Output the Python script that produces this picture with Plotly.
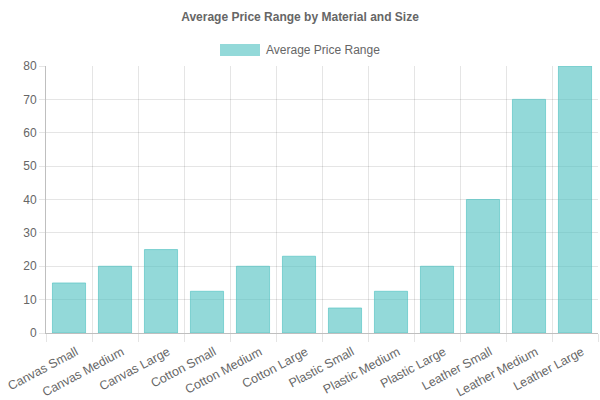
import plotly.graph_objects as go

categories = ["Canvas Small", "Canvas Medium", "Canvas Large", "Cotton Small", "Cotton Medium",
              "Cotton Large", "Plastic Small", "Plastic Medium", "Plastic Large", "Leather Small",
              "Leather Medium", "Leather Large"]
values = [15, 20, 25, 12.5, 20, 23, 7.5, 12.5, 20, 40, 70, 80]
series_name = "Average Price Range"
title_text = "Average Price Range by Material and Size"
y_ticks = [0, 10, 20, 30, 40, 50, 60, 70, 80]

FONT = "Liberation Sans, Arial, Helvetica, sans-serif"
GRID = "rgba(0,0,0,0.1)"
BAR = "rgba(75,192,192,0.6)"

# plot area in pixels (for legend decoration placement)
L, R, T, B = 46, 598, 66, 333
W, H = R - L, B - T

fig = go.Figure()
fig.add_trace(go.Bar(
    x=categories, y=values, name=series_name,
    marker=dict(color=BAR, line=dict(color=BAR, width=1)),
    width=0.72, showlegend=False,
))

# Chart.js-style legend: wide box + label
fig.add_shape(type="rect", xref="paper", yref="paper",
              x0=(220 - L) / W, x1=(260 - L) / W, y0=(B - 56) / H, y1=(B - 44) / H,
              fillcolor=BAR, line=dict(width=0))
fig.add_annotation(text=series_name, xref="paper", yref="paper", x=(264 - L) / W, y=(B - 50) / H,
                   xanchor="left", yanchor="middle", showarrow=False,
                   font=dict(size=12, color="#666", family=FONT))

fig.update_layout(
    width=600, height=400,
    margin=dict(l=L, r=600 - R, t=T, b=400 - B, autoexpand=False),
    paper_bgcolor="white", plot_bgcolor="white",
    font=dict(family=FONT, size=12, color="#666"),
    title=dict(text="<b>" + title_text + "</b>", x=0.5, xanchor="center", y=1 - 17 / 400, yanchor="middle",
               font=dict(size=12, color="#666", family=FONT)),
    showlegend=False,
    bargap=0.28,
    xaxis=dict(
        type="category", tickson="boundaries", showgrid=True, gridcolor=GRID, gridwidth=1,
        ticks="outside", ticklen=8, tickcolor=GRID, tickangle=-28,
        ticklabelshift=7, ticklabelstandoff=6,
        showline=True, linecolor="rgba(0,0,0,0.25)", linewidth=1,
        tickfont=dict(size=12.5, color="#666"), zeroline=False, automargin=False,
    ),
    yaxis=dict(
        range=[0, 80], tickvals=y_ticks, showgrid=True, gridcolor=GRID, gridwidth=1,
        ticks="outside", ticklen=6, tickcolor=GRID,
        showline=True, linecolor="rgba(0,0,0,0.25)", linewidth=1, zeroline=False,
        tickfont=dict(size=12, color="#666"), automargin=False,
    ),
)

fig.write_html("out.html")
